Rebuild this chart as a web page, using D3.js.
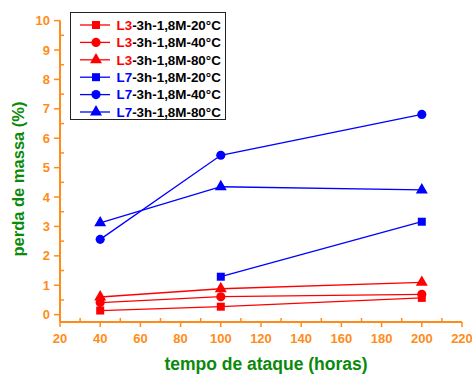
<!DOCTYPE html>
<html>
<head>
<meta charset="utf-8">
<script src="https://cdn.jsdelivr.net/npm/d3@7"></script>
<style>
  body { margin: 0; background: #fff; }
  svg text { font-family: Arial, "Liberation Sans", sans-serif; font-weight: bold; }
</style>
</head>
<body>
<div id="chart"></div>
<script>
const width = 472;
const height = 374;

// data
const hours = [40, 100, 200];
const names = ["L3-3h-1,8M-20°C", "L3-3h-1,8M-40°C", "L3-3h-1,8M-80°C",
               "L7-3h-1,8M-20°C", "L7-3h-1,8M-40°C", "L7-3h-1,8M-80°C"];
const l3_20 = [0.14, 0.27, 0.57];
const l3_40 = [0.41, 0.61, 0.69];
const l3_80 = [0.60, 0.88, 1.10];
const l7_20 = [null, 1.29, 3.16];
const l7_40 = [2.56, 5.42, 6.81];
const l7_80 = [3.12, 4.35, 4.24];
const xTicks = [20, 40, 60, 80, 100, 120, 140, 160, 180, 200, 220];
const yTicks = [0, 1, 2, 3, 4, 5, 6, 7, 8, 9, 10];

const series = [
  { name: names[0], values: l3_20, color: "#ff0000", shape: d3.symbolSquare },
  { name: names[1], values: l3_40, color: "#ff0000", shape: d3.symbolCircle },
  { name: names[2], values: l3_80, color: "#ff0000", shape: d3.symbolTriangle },
  { name: names[3], values: l7_20, color: "#0000ff", shape: d3.symbolSquare },
  { name: names[4], values: l7_40, color: "#0000ff", shape: d3.symbolCircle },
  { name: names[5], values: l7_80, color: "#0000ff", shape: d3.symbolTriangle }
];

const orange = "#ff8c1a";
const green = "#0a8a0a";

let x = d3.scaleLinear().domain([20, 220]).range([60, 462]);
let y = d3.scaleLinear().domain([-0.25, 10]).range([322, 20.6]);

let svg = d3.select("#chart").append("svg")
  .attr("width", width)
  .attr("height", height);

// axes
let xAxis = svg.append("g").attr("transform", "translate(0,322)");
xAxis.append("line")
  .attr("x1", x(20)).attr("x2", x(220))
  .attr("stroke", orange).attr("stroke-width", 2);
xAxis.selectAll(".major").data(xTicks).enter().append("line")
  .attr("x1", d => x(d)).attr("x2", d => x(d))
  .attr("y1", 0).attr("y2", 5)
  .attr("stroke", orange).attr("stroke-width", 1.5);
xAxis.selectAll(".minor").data(xTicks.slice(0, -1).map(d => d + 10)).enter().append("line")
  .attr("x1", d => x(d)).attr("x2", d => x(d))
  .attr("y1", 0).attr("y2", -4)
  .attr("stroke", orange).attr("stroke-width", 1.5);
xAxis.selectAll("text").data(xTicks).enter().append("text")
  .attr("x", d => x(d)).attr("y", 21)
  .attr("text-anchor", "middle")
  .attr("font-size", 13)
  .attr("fill", orange)
  .text(d => d);

let yAxis = svg.append("g").attr("transform", "translate(60,0)");
yAxis.append("line")
  .attr("y1", y(-0.25)).attr("y2", y(10))
  .attr("stroke", orange).attr("stroke-width", 2);
yAxis.selectAll(".major").data(yTicks).enter().append("line")
  .attr("y1", d => y(d)).attr("y2", d => y(d))
  .attr("x1", -6).attr("x2", 0)
  .attr("stroke", orange).attr("stroke-width", 1.5);
yAxis.selectAll(".minor").data(yTicks.slice(0, -1).map(d => d + 0.5)).enter().append("line")
  .attr("y1", d => y(d)).attr("y2", d => y(d))
  .attr("x1", 0).attr("x2", 4)
  .attr("stroke", orange).attr("stroke-width", 1.5);
yAxis.selectAll("text").data(yTicks).enter().append("text")
  .attr("x", -10).attr("y", d => y(d) + 4.5)
  .attr("text-anchor", "end")
  .attr("font-size", 13)
  .attr("fill", orange)
  .text(d => d);

// axis titles
svg.append("text")
  .attr("x", 266).attr("y", 370)
  .attr("text-anchor", "middle")
  .attr("font-size", 17.5)
  .attr("fill", green)
  .text("tempo de ataque (horas)");
svg.append("text")
  .attr("transform", "translate(24,179) rotate(-90)")
  .attr("text-anchor", "middle")
  .attr("font-size", 16.5)
  .attr("fill", green)
  .text("perda de massa (%)");

// lines + markers
let line = d3.line()
  .defined(d => d.v != null)
  .x(d => x(d.h))
  .y(d => y(d.v));

function symSizeOf(shape) {
  if (shape === d3.symbolSquare) return 64;
  if (shape === d3.symbolCircle) return 66;
  return 62;
}

series.forEach(s => {
  let pts = hours.map((h, i) => ({ h: h, v: s.values[i] }));
  svg.append("path")
    .datum(pts)
    .attr("d", line)
    .attr("fill", "none")
    .attr("stroke", s.color)
    .attr("stroke-width", 1.3);
  svg.selectAll(null)
    .data(pts.filter(d => d.v != null))
    .enter().append("path")
    .attr("transform", d => "translate(" + x(d.h) + "," + y(d.v) + ")")
    .attr("d", d3.symbol().type(s.shape).size(symSizeOf(s.shape)))
    .attr("fill", s.color);
});

// legend
let legend = svg.append("g");
legend.append("rect")
  .attr("x", 70.5).attr("y", 12.5)
  .attr("width", 155).attr("height", 107)
  .attr("fill", "#fff")
  .attr("stroke", "#222")
  .attr("stroke-width", 1);

let rowY = d3.scalePoint().domain(names).range([25, 112]);

series.forEach(s => {
  let ly = rowY(s.name);
  legend.append("line")
    .attr("x1", 80).attr("x2", 110)
    .attr("y1", ly).attr("y2", ly)
    .attr("stroke", s.color).attr("stroke-width", 1.3);
  legend.append("path")
    .attr("transform", "translate(96," + ly + ")")
    .attr("d", d3.symbol().type(s.shape).size(symSizeOf(s.shape)))
    .attr("fill", s.color);
  let t = legend.append("text")
    .attr("x", 116.5).attr("y", ly + 4.8)
    .attr("font-size", 13.4);
  t.append("tspan").attr("fill", s.color).text(s.name.slice(0, 2));
  t.append("tspan").attr("fill", "#000").text(s.name.slice(2));
});
</script>
</body>
</html>
